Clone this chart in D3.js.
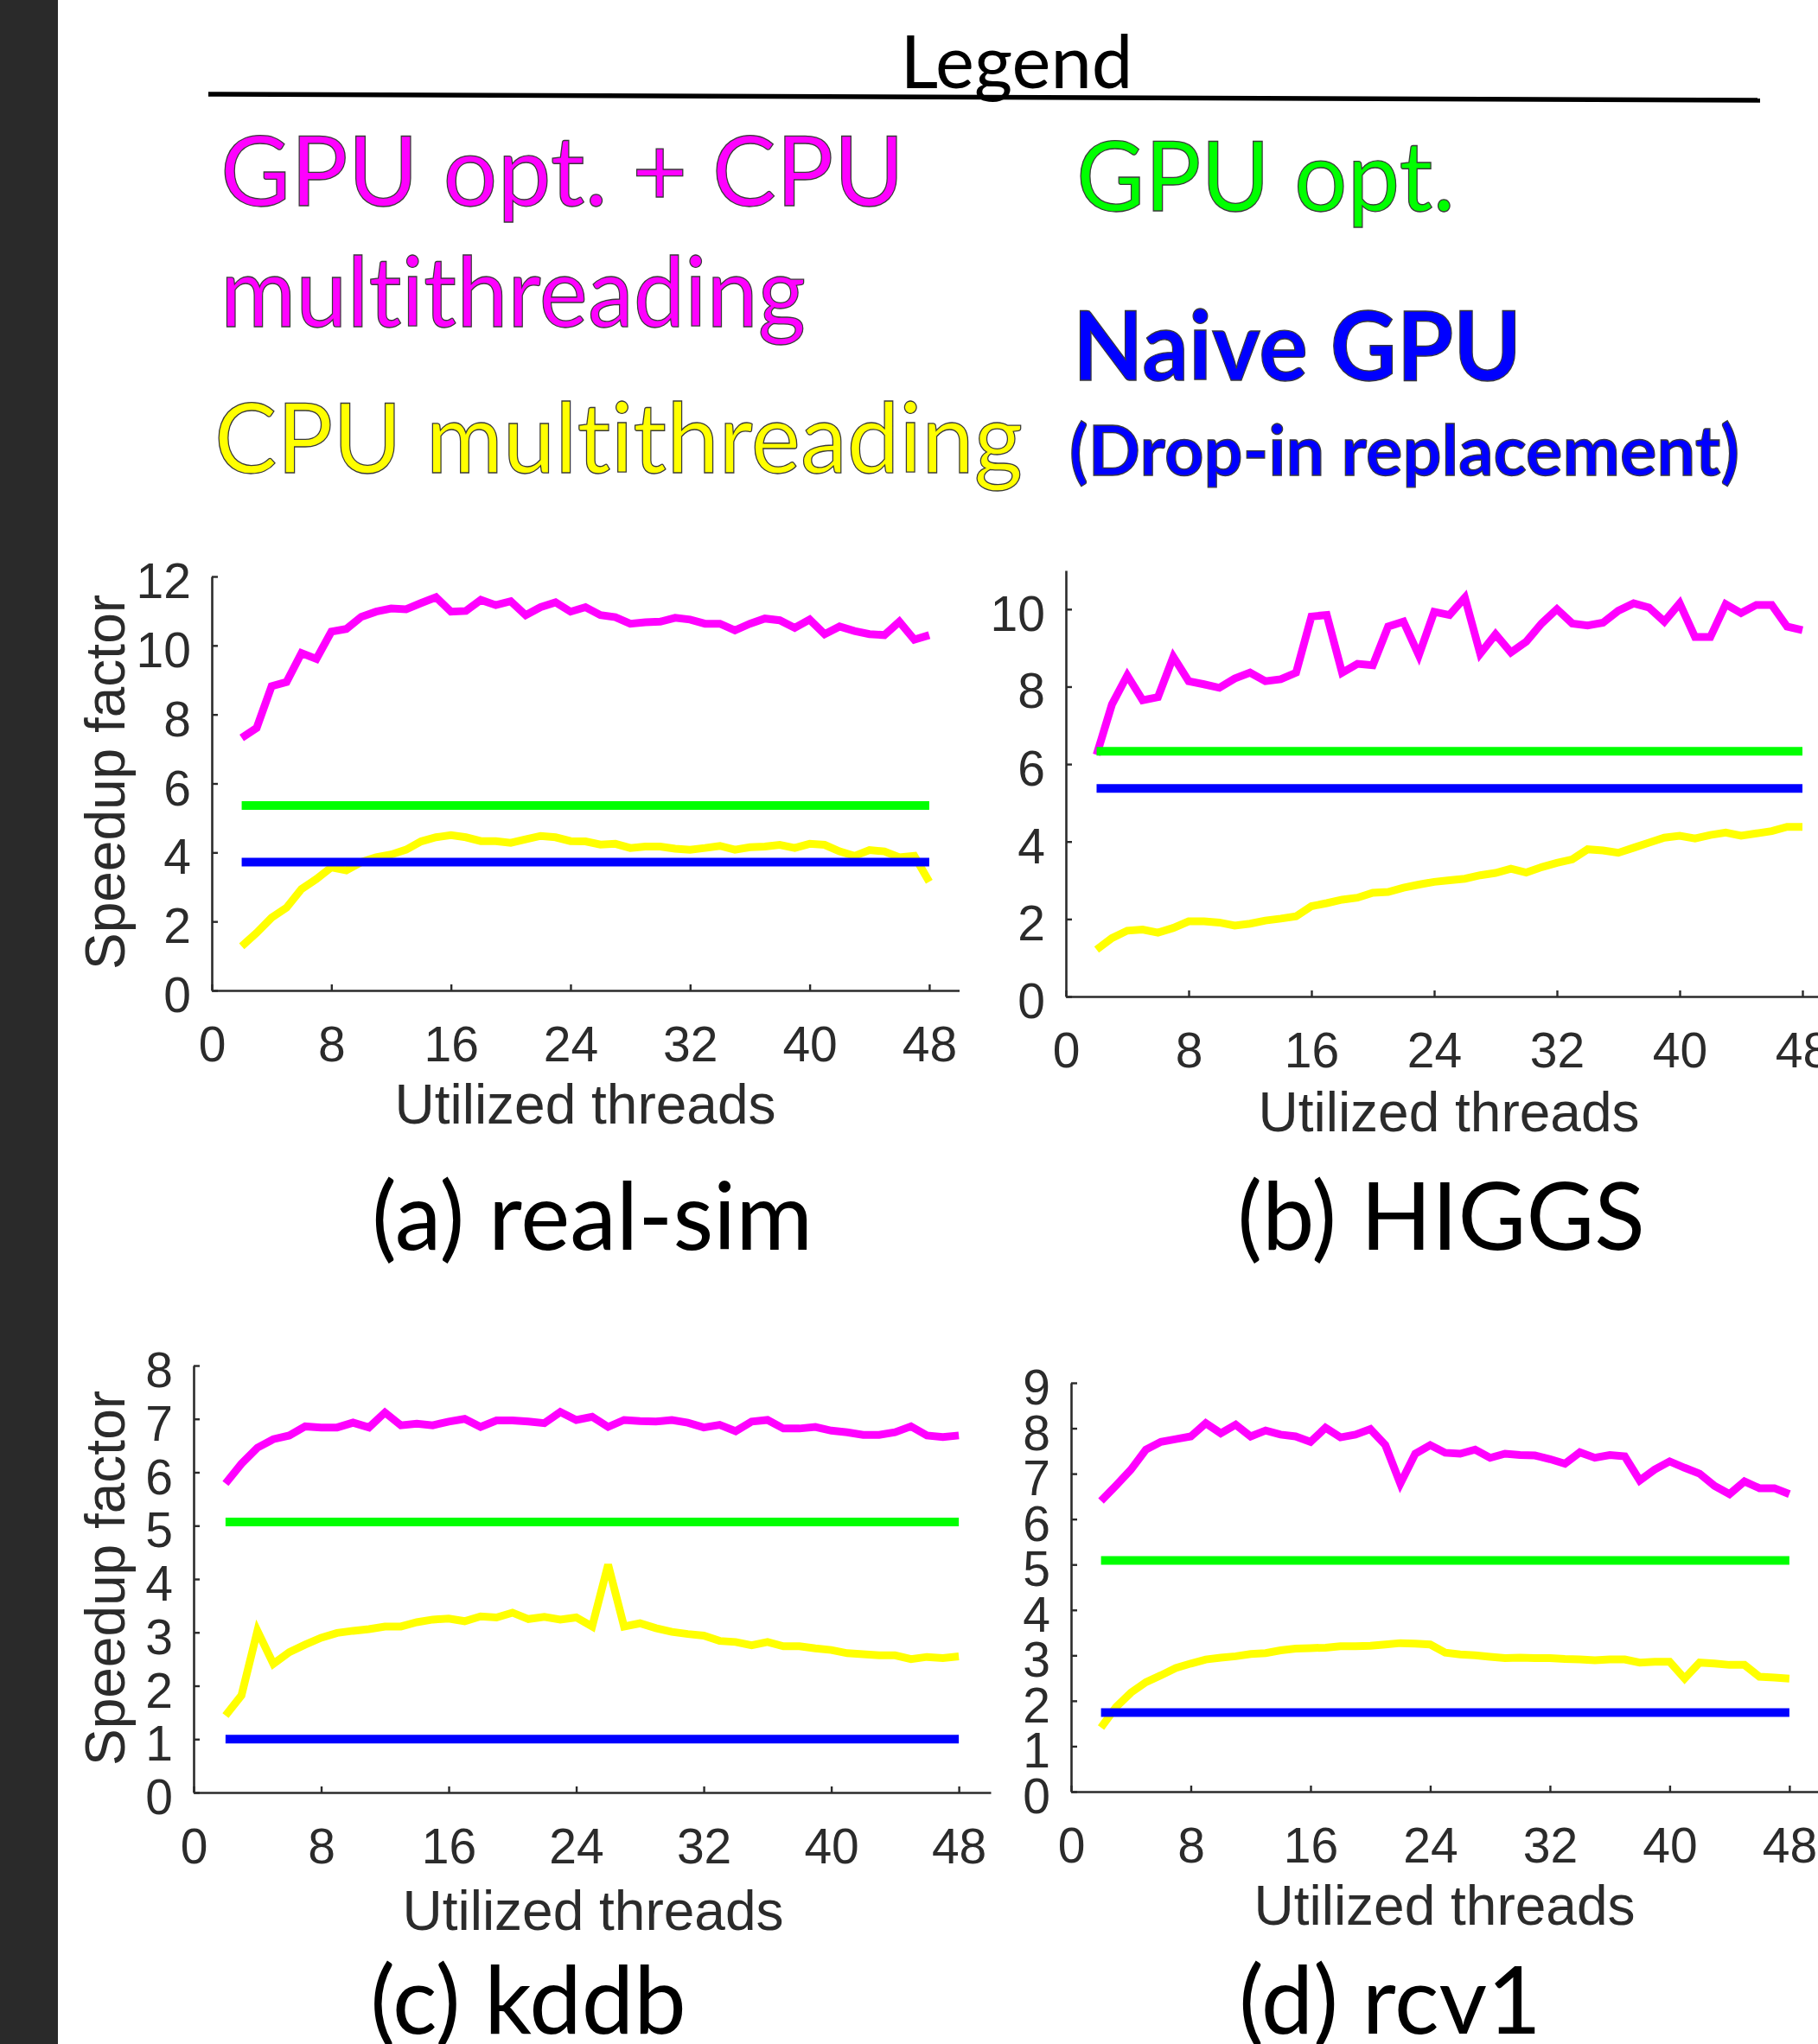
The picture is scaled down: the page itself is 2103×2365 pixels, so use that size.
<!DOCTYPE html>
<html>
<head>
<meta charset="utf-8">
<script src="https://cdn.jsdelivr.net/npm/d3@7"></script>
<style>
  body { margin: 0; background: #fff; }
  svg { display: block; }
  text { font-variant-ligatures: none; }
</style>
</head>
<body>
<div id="chart"></div>
<script>
// thread counts on the x axis
const threads = [2, 3, 4, 5, 6, 7, 8, 9, 10, 11, 12, 13, 14, 15, 16, 17, 18, 19, 20, 21, 22, 23, 24, 25,
  26, 27, 28, 29, 30, 31, 32, 33, 34, 35, 36, 37, 38, 39, 40, 41, 42, 43, 44, 45, 46, 47, 48];

const datasets = ["real-sim", "HIGGS", "kddb", "rcv1"];
const captions = ["(a) real-sim", "(b) HIGGS", "(c) kddb", "(d) rcv1"];

// GPU opt. + CPU multithreading
const realsimHybrid = [7.32, 7.61, 8.82, 8.94, 9.78, 9.61, 10.4, 10.48, 10.83, 10.98,
  11.07, 11.05, 11.23, 11.4, 10.98, 11.0, 11.32, 11.17, 11.28, 10.88,
  11.11, 11.25, 10.98, 11.11, 10.88, 10.82, 10.63, 10.67, 10.69, 10.8,
  10.75, 10.63, 10.63, 10.44, 10.63, 10.78, 10.73, 10.51, 10.75, 10.33,
  10.55, 10.42, 10.33, 10.3, 10.69, 10.17, 10.3];
const higgsHybrid = [6.24, 7.54, 8.29, 7.65, 7.73, 8.77, 8.14, 8.06, 7.97, 8.21,
  8.36, 8.14, 8.19, 8.36, 9.81, 9.85, 8.36, 8.59, 8.55, 9.55,
  9.68, 8.81, 9.93, 9.85, 10.3, 8.85, 9.35, 8.88, 9.16, 9.63,
  10.0, 9.63, 9.58, 9.65, 9.96, 10.15, 10.04, 9.68, 10.15, 9.28,
  9.28, 10.13, 9.9, 10.11, 10.11, 9.55, 9.46];
const kddbHybrid = [5.79, 6.16, 6.46, 6.62, 6.69, 6.86, 6.84, 6.84, 6.93, 6.84,
  7.12, 6.88, 6.91, 6.88, 6.95, 7.0, 6.85, 6.97, 6.97, 6.95,
  6.92, 7.13, 6.98, 7.04, 6.85, 6.98, 6.96, 6.95, 6.98, 6.93,
  6.84, 6.89, 6.77, 6.95, 6.98, 6.82, 6.82, 6.85, 6.78, 6.75,
  6.7, 6.7, 6.75, 6.86, 6.69, 6.66, 6.69];
const rcv1Hybrid = [6.4, 6.74, 7.09, 7.53, 7.7, 7.76, 7.82, 8.11, 7.89, 8.08,
  7.82, 7.95, 7.86, 7.82, 7.7, 8.01, 7.8, 7.86, 7.98, 7.63,
  6.78, 7.44, 7.63, 7.46, 7.44, 7.53, 7.35, 7.44, 7.41, 7.4,
  7.32, 7.22, 7.47, 7.35, 7.41, 7.38, 6.85, 7.09, 7.27, 7.13,
  7.0, 6.73, 6.55, 6.83, 6.68, 6.68, 6.55];

// CPU multithreading
const realsimCpu = [1.28, 1.67, 2.11, 2.4, 2.94, 3.23, 3.57, 3.48, 3.72, 3.86,
  3.94, 4.08, 4.32, 4.44, 4.5, 4.44, 4.33, 4.33, 4.28, 4.38,
  4.48, 4.44, 4.33, 4.32, 4.23, 4.25, 4.13, 4.17, 4.17, 4.11,
  4.08, 4.13, 4.19, 4.08, 4.15, 4.17, 4.22, 4.13, 4.25, 4.22,
  4.03, 3.9, 4.07, 4.03, 3.86, 3.9, 3.15];
const higgsCpu = [1.21, 1.51, 1.7, 1.73, 1.65, 1.77, 1.94, 1.94, 1.91, 1.83,
  1.88, 1.96, 2.01, 2.07, 2.33, 2.41, 2.5, 2.55, 2.68, 2.7,
  2.81, 2.89, 2.96, 3.0, 3.04, 3.13, 3.19, 3.3, 3.2, 3.34,
  3.45, 3.54, 3.8, 3.77, 3.71, 3.84, 3.97, 4.1, 4.15, 4.08,
  4.17, 4.23, 4.15, 4.21, 4.27, 4.38, 4.38];
const kddbCpu = [1.44, 1.82, 3.03, 2.41, 2.63, 2.77, 2.9, 2.99, 3.03, 3.06,
  3.11, 3.11, 3.19, 3.24, 3.26, 3.21, 3.3, 3.28, 3.37, 3.25,
  3.29, 3.24, 3.28, 3.11, 4.27, 3.11, 3.17, 3.08, 3.01, 2.97,
  2.94, 2.84, 2.82, 2.76, 2.82, 2.74, 2.74, 2.7, 2.67, 2.61,
  2.59, 2.57, 2.57, 2.5, 2.54, 2.52, 2.55];
const rcv1Cpu = [1.41, 1.86, 2.18, 2.41, 2.56, 2.72, 2.82, 2.91, 2.95, 2.98,
  3.03, 3.05, 3.11, 3.15, 3.16, 3.17, 3.2, 3.2, 3.21, 3.24,
  3.27, 3.26, 3.24, 3.06, 3.02, 3.0, 2.97, 2.94, 2.95, 2.94,
  2.94, 2.92, 2.91, 2.89, 2.91, 2.91, 2.84, 2.86, 2.86, 2.49,
  2.84, 2.82, 2.79, 2.79, 2.53, 2.51, 2.49];

// flat references: GPU opt. and Naive GPU
const gpuOpt = [5.36, 6.33, 5.07, 5.09];
const naiveGpu = [3.72, 5.37, 1.0, 1.74];

const xTicks = [0, 8, 16, 24, 32, 40, 48];
const yTicksA = [0, 2, 4, 6, 8, 10, 12];
const yTicksB = [0, 2, 4, 6, 8, 10];
const yTicksC = [0, 1, 2, 3, 4, 5, 6, 7, 8];
const yTicksD = [0, 1, 2, 3, 4, 5, 6, 7, 8, 9];

const legendItems = [
  { text: "GPU opt. + CPU", color: "#ff00ff", x: 255, y: 238, size: 112, w: 400, len: 791 },
  { text: "multithreading", color: "#ff00ff", x: 255, y: 378, size: 112, w: 400, len: 677 },
  { text: "CPU multithreading", color: "#ffff00", x: 248, y: 547, size: 112, w: 400, len: 935 },
  { text: "GPU opt.", color: "#00ff00", x: 1245, y: 244, size: 112, w: 400, len: 438 },
  { text: "Naive GPU", color: "#0000ff", x: 1241, y: 440, size: 112, w: 700, len: 519 },
  { text: "(Drop-in replacement)", color: "#0000ff", x: 1237, y: 550, size: 80, w: 700, len: 775 }
];

// panel layout (pixels)
const panels = [
  { hybrid: realsimHybrid, cpu: realsimCpu, yMax: 12, yTicks: yTicksA,
    left: 245, unit: 17.29, bottom: 1146, top: 667, ylab: 905, xlabX: 677, xlabY: 1300, capX: 685, capY: 1446 },
  { hybrid: higgsHybrid, cpu: higgsCpu, yMax: 11, yTicks: yTicksB,
    left: 1233, unit: 17.75, bottom: 1153, top: 660, ylab: null, xlabX: 1676, xlabY: 1309, capX: 1667, capY: 1446 },
  { hybrid: kddbHybrid, cpu: kddbCpu, yMax: 8, yTicks: yTicksC,
    left: 224, unit: 18.44, bottom: 2074, top: 1580, ylab: 1826, xlabX: 686, xlabY: 2233, capX: 611, capY: 2353 },
  { hybrid: rcv1Hybrid, cpu: rcv1Cpu, yMax: 9, yTicks: yTicksD,
    left: 1239, unit: 17.31, bottom: 2073, top: 1600, ylab: null, xlabX: 1671, xlabY: 2227, capX: 1608, capY: 2353 }
];

const W = 2103, H = 2365;
const axisColor = "#2b2b2b";
const axisFont = "'Liberation Sans', Arial, Helvetica, sans-serif";
const capFont = "Lato, 'Open Sans', sans-serif";

const svg = d3.select("#chart").append("svg")
  .attr("width", W)
  .attr("height", H);

svg.append("rect").attr("width", W).attr("height", H).attr("fill", "#fff");
// dark strip at the left edge
svg.append("rect").attr("x", 0).attr("y", 0).attr("width", 67).attr("height", H).attr("fill", "#2a2a2a");

// ---- legend ----
svg.append("text")
  .attr("x", 1176).attr("y", 102)
  .attr("text-anchor", "middle")
  .style("font-family", capFont)
  .style("font-size", "85px")
  .attr("fill", "#000")
  .text("Legend");

svg.append("line")
  .attr("x1", 241).attr("y1", 109)
  .attr("x2", 2036).attr("y2", 116)
  .attr("stroke", "#000")
  .attr("stroke-width", 5.5);

svg.selectAll("text.legend")
  .data(legendItems)
  .join("text")
  .attr("class", "legend")
  .attr("x", d => d.x)
  .attr("y", d => d.y)
  .attr("textLength", d => d.len)
  .attr("lengthAdjust", "spacingAndGlyphs")
  .style("font-family", capFont)
  .style("font-size", d => d.size + "px")
  .style("font-weight", d => d.w)
  .attr("fill", d => d.color)
  .attr("stroke", "#3a3a3a")
  .attr("stroke-width", 1.3)
  .text(d => d.text);

// ---- panels ----
panels.forEach((p, i) => {
  const x = d3.scaleLinear().domain([0, 50]).range([p.left, p.left + 50 * p.unit]);
  const y = d3.scaleLinear().domain([0, p.yMax]).range([p.bottom, p.top]);
  const g = svg.append("g").attr("class", "panel-" + datasets[i]);

  const line = d3.line()
    .x((d, j) => x(threads[j]))
    .y(d => y(d));

  // CPU multithreading
  g.append("path")
    .datum(p.cpu)
    .attr("d", line)
    .attr("fill", "none")
    .attr("stroke", "#ffff00")
    .attr("stroke-width", 9)
    .attr("stroke-linejoin", "miter");

  // GPU opt. + CPU multithreading
  g.append("path")
    .datum(p.hybrid)
    .attr("d", line)
    .attr("fill", "none")
    .attr("stroke", "#ff00ff")
    .attr("stroke-width", 9)
    .attr("stroke-linejoin", "miter");

  // flat lines
  const flat = [
    { v: gpuOpt[i], c: "#00ff00" },
    { v: naiveGpu[i], c: "#0000ff" }
  ];
  g.selectAll("line.flat")
    .data(flat)
    .join("line")
    .attr("class", "flat")
    .attr("x1", x(threads[0]))
    .attr("x2", x(threads[threads.length - 1]))
    .attr("y1", d => y(d.v))
    .attr("y2", d => y(d.v))
    .attr("stroke", d => d.c)
    .attr("stroke-width", 10);

  // axes
  const xAxis = g.append("g")
    .attr("transform", `translate(0,${p.bottom})`)
    .call(d3.axisBottom(x).tickValues(xTicks).tickSize(-7).tickSizeOuter(0).tickPadding(42));
  const yAxis = g.append("g")
    .attr("transform", `translate(${p.left},0)`)
    .call(d3.axisLeft(y).tickValues(p.yTicks).tickSize(-7).tickSizeOuter(0).tickPadding(24));

  [xAxis, yAxis].forEach(a => {
    a.select(".domain").attr("stroke", axisColor).attr("stroke-width", 2.6);
    a.selectAll(".tick line").attr("stroke", axisColor).attr("stroke-width", 2.4);
    a.selectAll(".tick text")
      .attr("fill", axisColor)
      .style("font-family", axisFont)
      .style("font-size", "57px");
  });
  yAxis.selectAll(".tick text").attr("dy", "0.43em");

  g.append("text")
    .attr("x", p.xlabX).attr("y", p.xlabY)
    .attr("text-anchor", "middle")
    .attr("fill", axisColor)
    .style("font-family", axisFont)
    .style("font-size", "64px")
    .text("Utilized threads");

  if (p.ylab !== null) {
    g.append("text")
      .attr("transform", `translate(144,${p.ylab}) rotate(-90)`)
      .attr("text-anchor", "middle")
      .attr("fill", axisColor)
      .style("font-family", axisFont)
      .style("font-size", "64px")
      .text("Speedup factor");
  }

  g.append("text")
    .attr("x", p.capX).attr("y", p.capY)
    .attr("text-anchor", "middle")
    .attr("fill", "#000")
    .style("font-family", capFont)
    .style("font-size", "108px")
    .text(captions[i]);
});
</script>
</body>
</html>
